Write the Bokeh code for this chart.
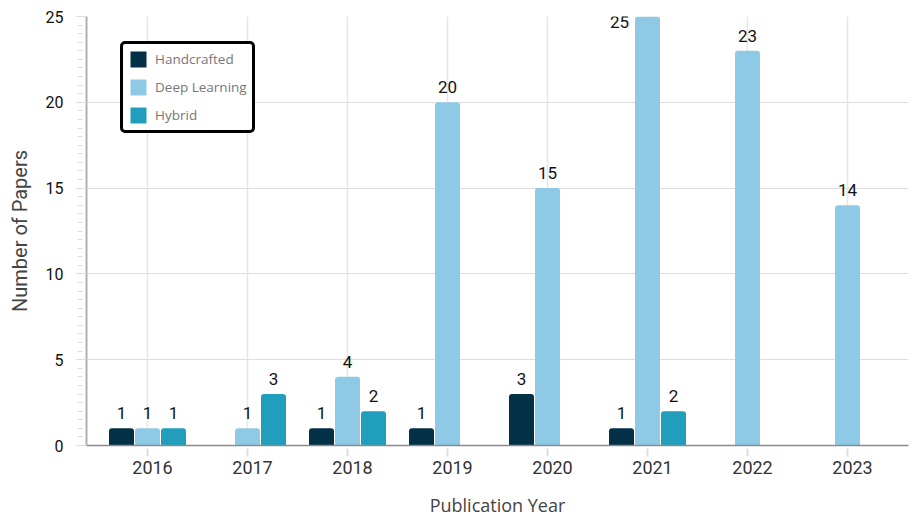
from bokeh.plotting import figure
from bokeh.models import (ColumnDataSource, FixedTicker, Label, Legend, LegendItem,
                          Range1d, Grid)
from bokeh.embed import file_html
from bokeh.resources import INLINE

years = [2016, 2017, 2018, 2019, 2020, 2021, 2022, 2023]
handcrafted = [1, 0, 1, 1, 3, 1, 0, 0]
deep_learning = [1, 1, 4, 20, 15, 25, 23, 14]
hybrid = [1, 3, 2, 0, 0, 2, 0, 0]
series_names = ["Handcrafted", "Deep Learning", "Hybrid"]
colors = ["#023047", "#8ecae6", "#219ebc"]
y_ticks = [0, 5, 10, 15, 20, 25]

Y_MAX = 25
BAR_W = 0.25
OFFS = [-0.26, 0.0, 0.26]

p = figure(width=913, height=522, output_backend="svg", toolbar_location=None,
           x_range=Range1d(years[0] - 0.61, years[-1] + 0.61),
           y_range=Range1d(0, Y_MAX),
           min_border_left=86, min_border_right=5, min_border_top=16, min_border_bottom=77)
p.outline_line_color = None
p.background_fill_color = "white"
p.border_fill_color = "white"

# grids
p.xgrid.visible = False
p.ygrid.visible = False
p.add_layout(Grid(dimension=0, ticker=FixedTicker(ticks=years),
                  grid_line_color="#e6e6e6", grid_line_width=1.5))
p.add_layout(Grid(dimension=1, ticker=FixedTicker(ticks=[t for t in y_ticks if 0 < t < Y_MAX]),
                  grid_line_color="#dedede", grid_line_width=1))

items = []
for vals, name, col, off in zip([handcrafted, deep_learning, hybrid], series_names, colors, OFFS):
    xs = [y + off for y, v in zip(years, vals) if v > 0]
    vs = [v for v in vals if v > 0]
    src = ColumnDataSource(dict(x=xs, top=vs))
    r = p.vbar(x="x", top="top", bottom=0, width=BAR_W, source=src, fill_color=col,
               line_color=None, border_radius=(3, 3, 0, 0))
    items.append(LegendItem(label=name, renderers=[r]))
    for x, v in zip(xs, vs):
        at_top = v >= Y_MAX
        p.add_layout(Label(x=x - 0.28 if at_top else x,
                           y=Y_MAX - 0.3 if at_top else v + 0.88,
                           text=str(v),
                           text_align="center", text_baseline="alphabetic",
                           text_font="Roboto", text_font_size="17px", text_color="#111111"))

# x axis
xa = p.xaxis[0]
label_pos = [y + 0.05 for y in years]
xa.ticker = FixedTicker(ticks=label_pos, minor_ticks=years)
xa.major_label_overrides = {lp: str(y) for lp, y in zip(label_pos, years)}
xa.major_tick_line_color = None
xa.major_tick_out = 0
xa.major_tick_in = 0
xa.minor_tick_line_color = "#dddddd"
xa.minor_tick_line_width = 2
xa.minor_tick_in = -3
xa.minor_tick_out = 11
xa.axis_line_color = "#8a8a8a"
xa.axis_line_width = 1.5
xa.major_label_standoff = 4
xa.major_label_text_font = "Roboto"
xa.major_label_text_font_size = "18px"
xa.major_label_text_color = "#333333"
xa.axis_label = "Publication Year"
xa.axis_label_text_font = "Open Sans"
xa.axis_label_text_font_style = "normal"
xa.axis_label_text_font_size = "18px"
xa.axis_label_text_color = "#444444"
xa.axis_label_standoff = 16

# y axis
ya = p.yaxis[0]
ya.ticker = FixedTicker(ticks=y_ticks, minor_ticks=[i * 0.5 for i in range(0, 2 * Y_MAX + 1)])
ya.axis_line_color = "#b0b0b0"
ya.axis_line_width = 2
ya.major_tick_line_color = "#dddddd"
ya.major_tick_out = 10
ya.major_tick_in = 0
ya.minor_tick_line_color = "#dddddd"
ya.minor_tick_in = -4
ya.minor_tick_out = 9
ya.major_label_standoff = 13
ya.major_label_text_font = "Roboto"
ya.major_label_text_font_size = "16px"
ya.major_label_text_color = "#111111"
ya.axis_label = "Number of Papers"
ya.axis_label_text_font = "Roboto"
ya.axis_label_text_font_style = "normal"
ya.axis_label_text_font_size = "20px"
ya.axis_label_text_color = "#444444"
ya.axis_label_standoff = 11

legend = Legend(items=items, location=(34, 312),
                border_line_color="black", border_line_width=3, border_line_alpha=1.0,
                border_radius=5,
                padding=5, spacing=8, glyph_width=20, glyph_height=20, label_standoff=7,
                label_text_font="Open Sans", label_text_font_size="13.5px",
                label_text_color="#777777", label_height=20, background_fill_alpha=1)
p.add_layout(legend)

open("out.html", "w").write(file_html(p, INLINE))
